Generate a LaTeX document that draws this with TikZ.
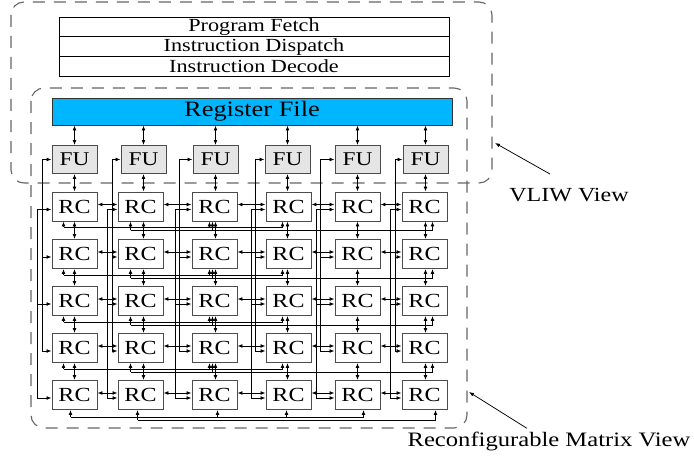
\documentclass[tikz,border=0pt]{standalone}
\usepackage{fontspec}
\setmainfont{Liberation Serif}
\usepackage{graphicx}
\usetikzlibrary{arrows.meta,calc}
\definecolor{rfblue}{RGB}{0,183,255}
% text set at a given size, slightly widened
\newcommand\wtext[2]{{\fontsize{#1}{#1}\selectfont\scalebox{1.2}[1]{#2}}}
\begin{document}
\begin{tikzpicture}[x=1pt,y=-1pt,
  wire/.style={line width=0.75pt},
  tip/.style={wire,-{Latex[length=5pt,width=3.8pt]}},
  both/.style={wire,{Latex[length=5pt,width=3.8pt]}-{Latex[length=5pt,width=3.8pt]}},
  rcbox/.style={draw=black!70, line width=0.9pt, fill=white, minimum width=45pt, minimum height=29pt, inner sep=0pt},
  fubox/.style={draw=black!70, line width=0.9pt, fill=black!10, minimum width=45pt, minimum height=28pt, inner sep=0pt},
  stage/.style={draw=black, line width=0.8pt, minimum width=390pt, minimum height=19.7pt, inner sep=0pt},
  viewbox/.style={draw=black!60, line width=1.1pt, dash pattern=on 12pt off 9pt, rounded corners=13pt},
  caption/.style={inner sep=0pt}
]
\useasboundingbox (0,0) rectangle (694,460);

% the two views
\draw[viewbox] (11,2) rectangle (492,183);
\draw[viewbox] (31,88) rectangle (467,428);

% front-end pipeline stages
\node[stage] (fetch)    at (254,27)   {\wtext{18.5}{Program Fetch}};
\node[stage] (dispatch) at (254,46.7) {\wtext{18.5}{Instruction Dispatch}};
\node[stage] (decode)   at (254,66.3) {\wtext{18.5}{Instruction Decode}};

% register file
\node[draw=black!80, line width=0.9pt, fill=rfblue, minimum width=400pt, minimum height=27pt, inner sep=0pt]
  (rf) at (252,111.5) {\wtext{22}{Register File}};

% functional units
\foreach \c/\x in {1/74.5,2/143.5,3/215.5,4/287.5,5/357.5,6/425.5}
  \node[fubox] (fu-\c) at (\x,159.5) {\wtext{19.5}{FU}};

% reconfigurable cells
\foreach \r/\y in {1/206.5,2/254,3/301,4/348,5/395}
  \foreach \c/\x in {1/74.5,2/140.5,3/214.5,4/288.5,5/357.5,6/424.5}
    \node[rcbox] (rc-\r-\c) at (\x,\y) {\wtext{20}{RC}};

% register file <-> FU, FU <-> first row, row <-> row
\foreach \c in {1,...,6} {
  \draw[both] (rf.south -| fu-\c) -- (fu-\c.north);
  \draw[both] (fu-\c.south) -- (rc-1-\c.north -| fu-\c);
  \foreach \r/\n in {1/2,2/3,3/4,4/5}
    \draw[both] (rc-\r-\c.south -| fu-\c) -- (rc-\n-\c.north -| fu-\c);
}

% neighbour links inside each row
\foreach \r in {1,...,5}
  \foreach \p/\c in {1/2,2/3,3/4,4/5,5/6}
    \draw[both] ([yshift=2pt]rc-\r-\p.east) -- ([yshift=2pt]rc-\r-\c.west);

% column feed lines: line B serves the FU and rows 2, 4; line A serves rows 1, 3, 5
\foreach \c/\xa/\xb in {1/37/42,2/107/112,3/175/179,4/251/255,5/316/320,6/390/395} {
  \coordinate (busA-\c) at (\xa,0);
  \coordinate (busB-\c) at (\xb,0);
  \foreach \r in {1,...,5}
    \coordinate (in-\r-\c) at ($(rc-\r-\c.west)+(0,3)$);
  \draw[wire] (busB-\c |- fu-\c.west) -- (busB-\c |- in-4-\c);
  \draw[tip] (busB-\c |- fu-\c.west) -- (fu-\c.west);
  \foreach \r in {2,4}
    \draw[tip] (in-\r-\c -| busB-\c) -- (in-\r-\c);
  \draw[wire] (busA-\c |- in-1-\c) -- (busA-\c |- in-5-\c);
  \foreach \r in {1,3,5}
    \draw[tip] (in-\r-\c -| busA-\c) -- (in-\r-\c);
}

% result buses under rows 1-4
\foreach \r in {1,...,4} {
  \coordinate (bl-\r) at ($(rc-\r-1.south)+(0,6)$);
  \coordinate (bm-\r) at ($(rc-\r-1.south)+(0,9)$);
  \coordinate (u1-\r) at ($(rc-\r-1.south)+(-11,0)$);
  \coordinate (u2-\r) at ($(rc-\r-2.south)+(-10,0)$);
  \coordinate (u3a-\r) at ($(rc-\r-3.south)+(-5,0)$);
  \coordinate (u3b-\r) at ($(rc-\r-3.south)+(-2,0)$);
  \coordinate (u4-\r) at ($(rc-\r-4.south)+(-6,0)$);
  \coordinate (u6-\r) at ($(rc-\r-6.south)+(8,0)$);
  \draw[wire] (u1-\r |- bl-\r) -- (u4-\r |- bl-\r);
  \draw[wire] (u2-\r |- bm-\r) -- (u6-\r |- bm-\r);
  \draw[tip] (u1-\r |- bl-\r) -- (u1-\r);
  \draw[tip] (u2-\r |- bm-\r) -- (u2-\r);
  \draw[tip] (u3a-\r |- bl-\r) -- (u3a-\r);
  \draw[tip] (u3b-\r |- bm-\r) -- (u3b-\r);
  \draw[tip] (u4-\r |- bl-\r) -- (u4-\r);
  \draw[tip] (u6-\r |- bm-\r) -- (u6-\r);
}

% result buses under the last row
\coordinate (bl-5) at ($(rc-5-1.south)+(0,7)$);
\coordinate (bm-5) at ($(rc-5-1.south)+(0,10)$);
\foreach \c/\dx in {1/-4,2/-3,3/3,4/-2,5/6,6/11}
  \coordinate (w-\c) at ($(rc-5-\c.south)+(\dx,0)$);
\draw[wire] (w-1 |- bl-5) -- (w-5 |- bl-5);
\draw[wire] (w-2 |- bm-5) -- (w-6 |- bm-5);
\foreach \c in {1,3,4,5}
  \draw[tip] (w-\c |- bl-5) -- (w-\c);
\foreach \c in {2,6}
  \draw[tip] (w-\c |- bm-5) -- (w-\c);

% captions
\node[caption] (vliw) at (569,195) {\wtext{20}{VLIW View}};
\coordinate (vliwtip) at (495,143);
\draw[tip] ([xshift=-19pt,yshift=14pt]vliw.north) -- (vliwtip);

\node[caption] (matrix) at (549,441) {\wtext{20.5}{Reconfigurable Matrix View}};
\coordinate (matrixtip) at (469,392);
\draw[tip] ([xshift=-22pt,yshift=3pt]matrix.north) -- (matrixtip);
\end{tikzpicture}
\end{document}
